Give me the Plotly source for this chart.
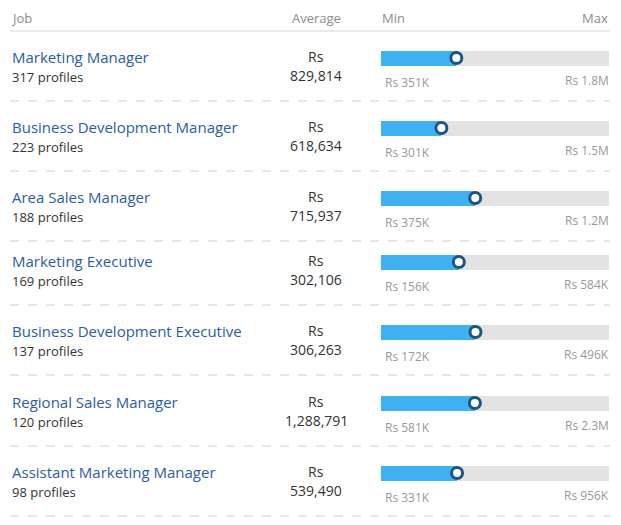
import plotly.graph_objects as go

# ---- data ----
jobs = ["Marketing Manager", "Business Development Manager", "Area Sales Manager",
        "Marketing Executive", "Business Development Executive", "Regional Sales Manager",
        "Assistant Marketing Manager"]
profiles = [317, 223, 188, 169, 137, 120, 98]
averages = [829814, 618634, 715937, 302106, 306263, 1288791, 539490]
mins = [351000, 301000, 375000, 156000, 172000, 581000, 331000]
maxs = [1800000, 1500000, 1200000, 584000, 496000, 2300000, 956000]
headers = ["Job", "Average", "Min", "Max"]

# ---- layout constants (window pixels; page body has an 8px margin) ----
W, H = 621, 525
OFF = 8
ROW_CENTERS = [57, 127, 197, 261, 331, 402, 472]
BAR_X0, BAR_X1 = 381, 609
FONT = "Open Sans, Roboto, sans-serif"
BLUE_TEXT = "#2d5ca6"
DARK = "#333333"
GREY = "#999999"


def fmt_short(v):
    if v >= 1e6:
        return f"Rs {v/1e6:.1f}M"
    return f"Rs {v/1e3:.0f}K"


fracs = [(a - lo) / (hi - lo) for a, lo, hi in zip(averages, mins, maxs)]
bar_y = [c + 1 for c in ROW_CENTERS]

fig = go.Figure()
fig.add_trace(go.Bar(x=[1] * len(jobs), y=bar_y, orientation="h", width=15,
                     marker=dict(color="#e3e3e3", line_width=0),
                     xaxis="x2", yaxis="y", hoverinfo="skip", showlegend=False))
fig.add_trace(go.Bar(x=fracs, y=bar_y, orientation="h", width=15,
                     marker=dict(color="#3fb1f1", line_width=0),
                     xaxis="x2", yaxis="y", hoverinfo="skip", showlegend=False))
fig.add_trace(go.Scatter(x=fracs, y=bar_y, mode="markers", xaxis="x2", yaxis="y",
                         marker=dict(size=11, color="white", symbol="circle",
                                     line=dict(color="#1c5580", width=3)),
                         hoverinfo="skip", showlegend=False, cliponaxis=False))

ann = []
hx = [10, 342, 381, 609]
hanchor = ["left", "right", "left", "right"]
for t, x, a in zip(headers, hx, hanchor):
    ann.append(dict(x=x, y=OFF, text=t, xanchor=a, yanchor="top", borderpad=0,
                    font=dict(size=13, color="#8c8c8c")))

shapes = [dict(type="line", xref="x", yref="y", x0=10, x1=610, y0=31, y1=31,
               line=dict(color="#d6d6d6", width=1))]

for i, c in enumerate(ROW_CENTERS):
    ann.append(dict(x=10, y=c, text=jobs[i], xanchor="left",
                    font=dict(size=15, color=BLUE_TEXT)))
    ann.append(dict(x=10, y=c + 20, text=f"{profiles[i]} profiles", xanchor="left",
                    font=dict(size=13, color=DARK)))
    ann.append(dict(x=316, y=c - 1, text="Rs", xanchor="center",
                    font=dict(size=14, color=DARK)))
    ann.append(dict(x=316, y=c + 18, text=f"{averages[i]:,}", xanchor="center",
                    font=dict(size=14, color=DARK)))
    ann.append(dict(x=383, y=c + 25, text=fmt_short(mins[i]), xanchor="left",
                    font=dict(size=12, color=GREY)))
    ann.append(dict(x=611, y=c + 23, text=fmt_short(maxs[i]), xanchor="right",
                    font=dict(size=12, color=GREY)))
    shapes.append(dict(type="line", xref="x", yref="y", x0=10, x1=610,
                       y0=c + 44, y1=c + 44,
                       line=dict(color="#cfcfcf", width=1, dash="dash")))

for a in ann:
    a.setdefault("yanchor", "middle")
    a.update(xref="x", yref="y", showarrow=False)

PW, PH = W - OFF, H - OFF
fig.update_layout(
    width=PW, height=PH, margin=dict(l=0, r=0, t=0, b=0, pad=0),
    paper_bgcolor="white", plot_bgcolor="white",
    font=dict(family=FONT),
    barmode="overlay", bargap=0,
    xaxis=dict(range=[OFF, W], domain=[0, 1], visible=False, fixedrange=True),
    xaxis2=dict(range=[0, 1], domain=[(BAR_X0 - OFF) / PW, (BAR_X1 - OFF) / PW],
                anchor="y", visible=False, fixedrange=True),
    yaxis=dict(range=[H, OFF], domain=[0, 1], visible=False, fixedrange=True),
    annotations=ann, shapes=shapes, showlegend=False,
)

fig.write_html("out.html")
